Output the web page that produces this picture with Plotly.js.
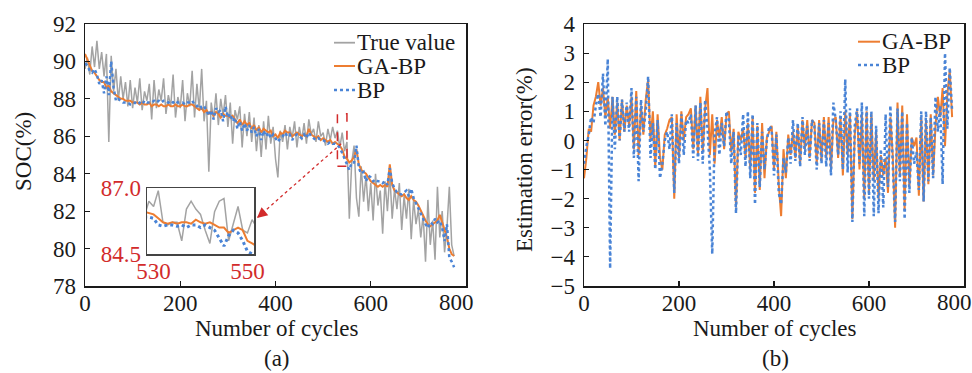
<!DOCTYPE html>
<html>
<head>
<meta charset="utf-8">
<script src="https://cdn.plot.ly/plotly-3.0.1.min.js"></script>
<style>html,body{margin:0;padding:0;background:#fff;}#chart{width:972px;height:373px;}</style>
</head>
<body>
<div id="chart"></div>
<script>
// ---------- DATA ----------
const cycles = [
  0,5,10,15,20,25,30,35,40,45, 50,55,60,65,70,75,80,85,90,95,
  100,105,110,115,120,125,130,135,140,145, 150,155,160,165,170,175,180,185,190,195,
  200,205,210,215,220,225,230,235,240,245, 250,255,260,265,270,275,280,285,290,295,
  300,305,310,315,320,325,330,335,340,345, 350,355,360,365,370,375,380,385,390,395,
  400,405,410,415,420,425,430,435,440,445, 450,455,460,465,470,475,480,485,490,495,
  500,505,510,515,520,525,530,535,540,545, 550,555,560,565,570,575,580,585,590,595,
  600,605,610,615,620,625,630,635,640,645, 650,655,660,665,670,675,680,685,690,695,
  700,705,710,715,720,725,730,735,740,745, 750,755,760,765,770,775
];
const trueValue = [
  89.6,90.2,89.3,90.8,89.7,91.1,89.6,90.5,89.2,90.4, 85.7,90.3,88.4,89.6,87.9,89.2,88.0,88.9,87.6,89.0,
  87.5,88.6,87.8,89.1,87.4,88.4,87.9,88.8,86.9,89.0, 87.5,88.5,87.9,89.1,87.2,88.2,87.6,89.3,87.0,88.1,
  87.5,89.0,86.8,88.3,87.6,89.5,87.0,88.8,87.4,89.6, 86.8,87.9,84.1,87.8,86.9,88.3,86.6,88.0,87.1,88.2,
  86.5,87.8,85.6,87.4,86.9,87.6,85.4,87.2,86.0,87.3, 85.7,87.0,85.2,86.6,84.9,86.8,85.3,87.1,85.6,86.5,
  84.8,83.8,86.3,85.7,86.6,85.3,86.5,85.9,86.8,85.4, 86.5,85.8,86.7,85.6,86.9,86.1,86.4,85.7,86.8,86.0,
  86.2,85.5,86.4,85.8,86.5,85.9,86.3,85.4,86.2,85.2, 85.7,81.6,84.6,85.5,82.7,81.7,84.4,82.5,83.9,82.0,
  83.5,81.5,84.0,82.3,83.1,80.8,83.6,82.0,84.0,81.6, 83.2,82.1,83.5,81.0,82.8,81.6,83.2,80.5,82.6,81.3,
  82.1,80.6,81.8,79.3,82.6,80.2,81.5,79.4,83.3,80.6, 82.0,79.8,81.1,83.3,80.2,79.6
];
const gaBP = [
  90.4,90.1,89.8,89.5,89.4,89.2,89.0,88.9,88.9,88.6, 88.7,88.4,88.3,88.2,88.1,88.0,88.0,87.9,87.9,87.9,
  87.8,87.8,87.8,87.7,87.8,87.7,87.7,87.8,87.6,87.7, 87.7,87.6,87.7,87.6,87.6,87.7,87.6,87.6,87.7,87.6,
  87.6,87.7,87.6,87.6,87.7,87.7,87.6,87.5,87.4,87.5, 87.3,87.4,87.2,87.3,87.1,87.3,87.2,87.0,87.2,87.1,
  87.1,87.0,87.1,86.9,86.7,86.9,86.6,86.8,86.6,86.7, 86.4,86.6,86.3,86.5,86.2,86.4,86.3,86.2,86.3,86.0,
  86.1,85.9,86.2,86.1,86.3,86.2,86.2,86.0,86.1,86.2, 86.1,86.0,86.1,86.0,86.4,86.1,86.0,85.9,86.0,85.8,
  85.9,85.8,85.7,85.8,85.6,85.7,85.6,85.5,85.3,84.9, 84.8,84.6,84.7,84.9,85.3,84.5,84.2,84.1,84.0,83.8,
  83.6,83.5,83.4,83.3,83.4,83.3,83.4,83.3,84.5,83.4, 83.1,83.0,82.9,82.8,82.9,82.7,82.6,82.8,82.6,82.5,
  82.3,82.0,81.8,81.5,81.3,81.2,81.3,81.4,81.5,81.8, 81.4,81.0,80.6,80.0,79.7,79.6
];
const bp = [
  89.9,89.8,89.5,89.4,89.6,89.3,88.8,89.0,88.3,89.2, 88.2,90.0,88.6,87.9,88.0,87.9,87.8,87.8,87.8,87.7,
  87.7,87.8,87.7,87.8,87.7,87.9,87.8,87.8,87.8,87.9, 87.8,87.9,87.8,87.9,87.9,87.8,87.9,87.8,87.9,87.8,
  87.8,87.8,87.7,87.8,87.8,87.9,87.7,87.6,87.7,87.5, 87.6,87.4,87.1,87.4,86.9,87.5,87.3,87.4,86.8,87.6,
  87.0,87.2,86.8,87.0,86.4,86.8,86.3,86.7,86.3,86.6, 86.2,86.5,86.0,86.4,85.8,86.3,86.0,86.2,85.9,86.1,
  85.9,85.7,85.9,86.0,86.2,86.0,86.1,85.8,86.0,86.1, 86.0,85.9,86.1,85.9,86.2,86.0,85.9,85.8,85.9,85.8,
  85.8,85.7,85.6,85.7,85.6,85.6,85.5,85.4,85.1,84.8, 84.5,84.2,84.6,84.6,85.5,84.3,84.0,84.1,83.6,83.9,
  83.8,83.6,83.7,83.6,83.6,83.5,83.6,83.4,84.3,83.5, 83.2,83.0,82.9,82.9,83.0,83.1,82.8,83.2,82.7,82.4,
  82.2,81.9,81.6,81.3,81.1,81.4,81.3,81.6,81.4,81.5, 81.1,80.4,81.3,79.5,79.3,79.0
];
const errGaBP = [
  -1.3,-0.6,0.4,0.3,1.2,1.5,2.0,1.2,1.8,0.8, 1.5,0.4,1.5,0.2,1.3,0.0,1.4,0.3,1.2,0.5,
  1.5,-0.3,1.7,-0.5,1.2,0.2,1.4,2.1,0.0,1.0, -0.9,0.9,-0.6,-1.0,0.2,0.4,0.7,0.8,-2.0,0.9,
  -0.6,1.0,0.0,0.8,0.9,1.1,-0.3,1.2,-0.5,1.5, -0.4,1.1,1.8,-0.5,0.9,-0.8,0.7,0.1,0.8,-0.3,
  0.9,1.0,-0.4,0.4,-2.3,0.3,0.0,0.4,-0.6,0.6, -1.0,0.8,-1.8,0.5,-1.7,0.6,-1.3,0.1,0.3,0.5,
  -1.0,0.3,-1.5,-2.6,-0.3,-1.3,0.2,-0.5,0.3,-0.6, 0.5,-0.8,0.7,-0.3,0.7,-0.6,0.7,0.6,-0.8,0.7,
  -0.7,0.8,-0.6,0.8,-1.0,0.7,0.8,-0.6,0.8,-1.2, 1.0,-0.5,0.9,-2.7,0.2,1.0,-1.0,0.9,-2.0,1.0,
  -1.8,0.9,-1.4,0.3,-2.0,-0.5,-1.2,-0.6,-1.8,0.8, -0.5,-3.0,1.3,-1.2,1.2,-2.4,0.9,-1.6,0.1,-0.2,
  0.1,-1.9,0.8,-2.1,0.7,-1.5,0.9,-1.2,0.5,1.5, 0.8,1.8,-0.2,1.6,2.4,0.8
];
const errBP = [
  -0.8,-0.2,0.2,0.8,0.6,1.2,1.6,0.8,2.3,0.5, 2.8,-4.4,1.5,-0.3,1.5,0.0,1.4,0.3,1.3,0.3,
  1.8,-0.6,1.5,-1.4,1.4,0.3,1.0,2.2,-0.6,0.6, -1.0,0.7,-1.3,-0.8,0.0,0.3,-0.3,0.9,-1.8,0.6,
  -0.8,0.9,-0.5,0.7,0.6,0.9,-0.6,1.2,-0.7,1.3, -0.8,1.4,0.4,-1.0,-3.9,0.2,0.8,-0.5,0.6,-0.2,
  1.0,0.7,-0.8,0.3,-2.5,0.2,-0.5,0.9,-0.9,1.0, -1.3,0.9,-2.2,0.6,-1.6,0.3,-1.0,0.0,0.5,0.4,
  -1.2,0.2,-1.8,-2.2,-0.6,-1.1,0.1,-0.8,0.7,-0.7, 0.6,-0.9,0.8,-0.5,0.5,-0.7,0.7,0.5,-1.0,0.6,
  -0.8,0.7,-0.9,0.6,-1.2,1.3,0.7,-0.5,1.0,-1.0, 2.1,-1.1,1.1,-2.8,0.5,1.1,-0.8,1.3,-2.6,1.2,
  -2.0,1.0,-2.6,0.5,-2.5,-0.3,-2.3,0.9,-1.6,1.2, -0.8,-2.8,1.1,-1.4,1.0,-2.7,0.6,-1.8,0.1,-0.8,
  -0.4,-1.7,1.0,-2.1,1.0,-1.4,0.8,-1.3,1.5,0.3, 1.2,-1.5,3.0,0.4,2.5,1.0
];
// zoomed window (cycles 528..552)
const insetCycles = [528,529,530,531,532,533,534,535,536,537,538,539,540,541,542,543,544,545,546,547,548,549,550,551,552];
const insetTrue  = [85.9,86.5,86.3,86.9,85.7,85.6,85.7,85.7,85.0,86.2,86.5,86.2,86.0,85.4,84.9,86.1,86.5,86.6,85.0,85.7,86.3,85.4,85.3,85.8,85.5];
const insetGaBP  = [86.1,86.05,86.0,85.85,85.7,85.65,85.7,85.65,85.7,85.7,85.65,85.8,85.7,85.65,85.7,85.6,85.5,85.5,85.3,85.4,85.5,85.4,85.0,84.9,84.8];
const insetBP    = [85.9,85.9,85.85,85.6,85.55,85.6,85.6,85.55,85.6,85.5,85.6,85.6,85.5,85.6,85.5,85.4,85.1,84.8,85.2,85.4,85.3,85.0,84.6,84.5,84.4];
const socTicks = [78,80,82,84,86,88,90,92];
const errTicks = [-5,-4,-3,-2,-1,0,1,2,3,4];
const cycleTicks = [0,200,400,600,800];
const cycleTickText = ['0','200','400','600',''];   // last label placed separately (shifted inward as in the original)
const lastCycleLabel = '800';

// ---------- STYLE ----------
const FONT = '"Liberation Serif", "Times New Roman", Times, serif';
const FS = 23;
const INK = '#1a1a1a';
const GRAY = '#a3a3a3', ORANGE = '#ed7d31', BLUE = '#4a84d6', RED = '#d22b2b';
const W = 879, H = 262, L = 85, T = 24;   // plot area in pixels
const px = v => (v - L) / W;              // pixel -> paper x
const py = v => (T + H - v) / H;          // pixel -> paper y

const traces = [
  {x: cycles, y: trueValue, name: 'True value', mode: 'lines', line: {color: GRAY, width: 1.5}, xaxis: 'x', yaxis: 'y'},
  {x: cycles, y: gaBP, name: 'GA-BP', mode: 'lines', line: {color: ORANGE, width: 2}, xaxis: 'x', yaxis: 'y'},
  {x: cycles, y: bp, name: 'BP', mode: 'lines', line: {color: BLUE, width: 2.5, dash: 'dot'}, xaxis: 'x', yaxis: 'y'},
  {x: cycles, y: errGaBP, name: 'GA-BP', mode: 'lines', line: {color: ORANGE, width: 2}, xaxis: 'x2', yaxis: 'y2'},
  {x: cycles, y: errBP, name: 'BP', mode: 'lines', line: {color: BLUE, width: 2.5, dash: 'dot'}, xaxis: 'x2', yaxis: 'y2'},
  {x: insetCycles, y: insetTrue, mode: 'lines', line: {color: GRAY, width: 1.5}, xaxis: 'x3', yaxis: 'y3'},
  {x: insetCycles, y: insetGaBP, mode: 'lines', line: {color: ORANGE, width: 2}, xaxis: 'x3', yaxis: 'y3'},
  {x: insetCycles, y: insetBP, mode: 'lines', line: {color: BLUE, width: 3, dash: 'dot'}, xaxis: 'x3', yaxis: 'y3'}
];

const tfont = (c) => ({family: FONT, size: FS, color: c || INK});
function ax(extra) {
  return Object.assign({
    showline: true, linecolor: INK, linewidth: 1.5, mirror: true,
    ticks: 'inside', ticklen: 5, tickwidth: 1.2, tickcolor: INK,
    showgrid: false, zeroline: false, tickfont: tfont()
  }, extra);
}

// legend (drawn in paper space to match the compact original legend)
const legendLeft = [
  {label: 'True value', color: GRAY, dash: 'solid', w: 1.8, y: 42.7},
  {label: 'GA-BP', color: ORANGE, dash: 'solid', w: 2, y: 66},
  {label: 'BP', color: BLUE, dash: 'dot', w: 2.5, y: 90}
];
const legendRight = [
  {label: 'GA-BP', color: ORANGE, dash: 'solid', w: 2, y: 41.7},
  {label: 'BP', color: BLUE, dash: 'dot', w: 2.5, y: 65}
];
const shapes = [
  {type: 'rect', xref: 'x', yref: 'y', x0: 530, x1: 550, y0: 84.4, y1: 87.2,
   line: {color: RED, width: 1.5, dash: 'dash'}},
  {type: 'line', xref: 'x', yref: 'y', x0: 538, y0: 85.6, x1: 361, y1: 81.64,
   line: {color: RED, width: 1.3, dash: 'dot'}}
];
const annotations = [
  {xref: 'x', yref: 'y', x: 361, y: 81.64, ax: 9, ay: -7.5, showarrow: true, arrowhead: 2,
   arrowsize: 1.6, arrowwidth: 1.3, arrowcolor: RED, text: '', standoff: 0},
  {xref: 'paper', yref: 'paper', x: px(277), y: py(358), xanchor: 'center', yanchor: 'middle', showarrow: false, text: '(a)', font: tfont()},
  {xref: 'paper', yref: 'paper', x: px(775), y: py(358), xanchor: 'center', yanchor: 'middle', showarrow: false, text: '(b)', font: tfont()},
  {xref: 'paper', yref: 'paper', x: px(277), y: py(329), xanchor: 'center', yanchor: 'middle', showarrow: false, text: 'Number of cycles', font: tfont()},
  {xref: 'paper', yref: 'paper', x: px(775), y: py(329), xanchor: 'center', yanchor: 'middle', showarrow: false, text: 'Number of cycles', font: tfont()},
  {xref: 'paper', yref: 'paper', x: px(23), y: py(152), xanchor: 'center', yanchor: 'middle', textangle: -90, showarrow: false, text: 'SOC(%)', font: tfont()},
  {xref: 'paper', yref: 'paper', x: px(524), y: py(160), xanchor: 'center', yanchor: 'middle', textangle: -90, showarrow: false, text: 'Estimation error(%)', font: tfont()},
  {xref: 'paper', yref: 'paper', x: px(456), y: py(302), xanchor: 'center', yanchor: 'middle', showarrow: false, text: lastCycleLabel, font: tfont()},
  {xref: 'paper', yref: 'paper', x: px(954), y: py(302), xanchor: 'center', yanchor: 'middle', showarrow: false, text: lastCycleLabel, font: tfont()}
];
function addLegend(items, x0, x1, xt) {
  items.forEach(it => {
    shapes.push({type: 'line', xref: 'paper', yref: 'paper', x0: px(x0), x1: px(x1), y0: py(it.y), y1: py(it.y),
                 line: {color: it.color, width: it.w, dash: it.dash}});
    annotations.push({xref: 'paper', yref: 'paper', x: px(xt), y: py(it.y), xanchor: 'left', yanchor: 'middle',
                      showarrow: false, text: it.label, font: tfont()});
  });
}
addLegend(legendLeft, 334, 355, 355);
addLegend(legendRight, 858, 880, 880);

const layout = {
  width: 972, height: 373,
  margin: {l: L, r: 972 - L - W, t: T, b: 373 - T - H},
  paper_bgcolor: '#fff', plot_bgcolor: '#fff',
  showlegend: false,
  font: tfont(),
  xaxis: ax({domain: [0, 381 / W], range: [0, 800], tickvals: cycleTicks, ticktext: cycleTickText,
             anchor: 'y', ticklabelstandoff: -4}),
  yaxis: ax({domain: [0, 1], range: [78, 92], tickvals: socTicks, anchor: 'x', ticklabelstandoff: 3}),
  xaxis2: ax({domain: [499 / W, 1], range: [0, 800], tickvals: cycleTicks, ticktext: cycleTickText,
              anchor: 'y2', ticklabelstandoff: -4}),
  yaxis2: ax({domain: [0, 1], range: [-5, 4], tickvals: errTicks, anchor: 'x2', ticklabelstandoff: 3}),
  xaxis3: {domain: [px(147), px(254)], range: [528.6, 551.4], anchor: 'y3', showline: true, mirror: true,
           linecolor: '#444', linewidth: 1.5, ticks: '', showgrid: false, zeroline: false, ticklabelstandoff: -4,
           tickvals: [530, 550], ticktext: ['530', '550'], tickfont: tfont(RED)},
  yaxis3: {domain: [py(254), py(188)], range: [84.5, 87.0], anchor: 'x3', showline: true, mirror: true,
           linecolor: '#444', linewidth: 1.5, ticks: '', showgrid: false, zeroline: false, ticklabelstandoff: 0,
           tickvals: [84.5, 87.0], ticktext: ['84.5', '87.0'], tickfont: tfont(RED)},
  shapes: shapes,
  annotations: annotations
};

Plotly.newPlot('chart', traces, layout, {staticPlot: true, displayModeBar: false});
</script>
</body>
</html>
